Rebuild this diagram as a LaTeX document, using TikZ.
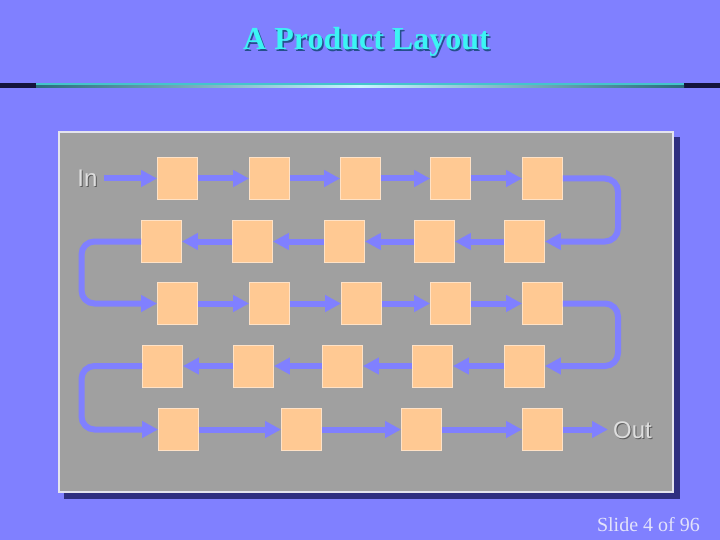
\documentclass[tikz,border=0pt]{standalone}
\usepackage{fontspec}
\setmainfont{Liberation Serif}
\newfontfamily\arialf{Liberation Sans}
\usetikzlibrary{arrows.meta,calc}
\definecolor{bgblue}{HTML}{8080FF}
\definecolor{panelgray}{HTML}{A0A0A0}
\definecolor{panelborder}{HTML}{E4E4EE}
\definecolor{shadownavy}{HTML}{2E2E80}
\definecolor{peach}{HTML}{FFC993}
\definecolor{peachedge}{HTML}{FFE2C6}
\definecolor{arrowblue}{HTML}{8080FF}
\definecolor{titlecyan}{HTML}{3CF4F4}
\definecolor{titleshadow}{HTML}{24508C}
\definecolor{lbltext}{HTML}{DEDEDE}
\definecolor{lblshadow}{HTML}{5A5A5A}
\definecolor{slidetext}{HTML}{E2E2FA}
\definecolor{rulenavy}{HTML}{14143C}
\definecolor{rulecyan}{HTML}{44C4CC}
\definecolor{ruleteal}{HTML}{2A6C7C}
\definecolor{rulelight}{HTML}{C8F4FF}
\tikzset{
  station/.style={draw=peachedge, fill=peach, line width=0.8pt, minimum width=40pt, minimum height=42pt, inner sep=0pt},
  flow/.style={line width=6pt, draw=arrowblue, rounded corners=13pt, -{Triangle[length=16pt,width=16pt]}},
  lbl/.style={font=\arialf\fontsize{24}{26}\selectfont, text=lbltext, inner sep=0pt},
  lblsh/.style={font=\arialf\fontsize{24}{26}\selectfont, text=lblshadow, inner sep=0pt},
}
\begin{document}
\begin{tikzpicture}[x=1pt,y=-1pt]
\useasboundingbox (0,0) rectangle (720,540);
\fill[bgblue] (0,0) rectangle (720,540);
% title
\node[font=\fontsize{32}{36}\bfseries\selectfont, text=titleshadow, anchor=base, inner sep=0pt] at (368,51.5) {A Product Layout};
\node[font=\fontsize{32}{36}\bfseries\selectfont, text=titlecyan, anchor=base, inner sep=0pt] (title) at (366.5,50) {A Product Layout};
% rule
\fill[rulenavy] (0,83) rectangle (720,88);
\fill[rulecyan] (36,83) rectangle (684,85.5);
\shade[left color=ruleteal, right color=ruleteal, middle color=rulelight] (36,85.5) rectangle (684,88);
% panel
\fill[shadownavy] (64,137) rectangle (680,499);
\draw[fill=panelgray, draw=panelborder, line width=2.2pt] (59,132) rectangle (673,492);
% stations
\node[station] (r1a) at (177.5,178.5) {};
\node[station] (r1b) at (269.5,178.5) {};
\node[station] (r1c) at (360.5,178.5) {};
\node[station] (r1d) at (450.5,178.5) {};
\node[station] (r1e) at (542.5,178.5) {};
\node[station] (r2a) at (161.5,241.5) {};
\node[station] (r2b) at (252.5,241.5) {};
\node[station] (r2c) at (344.5,241.5) {};
\node[station] (r2d) at (434.5,241.5) {};
\node[station] (r2e) at (524.5,241.5) {};
\node[station] (r3a) at (177.5,303.5) {};
\node[station] (r3b) at (269.5,303.5) {};
\node[station] (r3c) at (361.5,303.5) {};
\node[station] (r3d) at (450.5,303.5) {};
\node[station] (r3e) at (542.5,303.5) {};
\node[station] (r4a) at (162.5,366) {};
\node[station] (r4b) at (253.5,366) {};
\node[station] (r4c) at (342.5,366) {};
\node[station] (r4d) at (432.5,366) {};
\node[station] (r4e) at (524.5,366) {};
\node[station] (r5a) at (178.5,429.5) {};
\node[station] (r5b) at (301.5,429.5) {};
\node[station] (r5c) at (421.5,429.5) {};
\node[station] (r5d) at (542.5,429.5) {};
% labels
\node[lblsh, anchor=base] at (88.5,188) {In};
\node[lbl, anchor=base] (in) at (87.5,187) {In};
\node[lblsh, anchor=base west] at (614,439) {Out};
\node[lbl, anchor=base west] (out) at (613,438) {Out};
\coordinate (rt) at (618,0);
\coordinate (lf) at (81.5,0);
% flows
\draw[flow, shorten <=6pt] (in.east |- r1a.west) -- (r1a.west);
\draw[flow] (r1a) -- (r1b);
\draw[flow] (r1b) -- (r1c);
\draw[flow] (r1c) -- (r1d);
\draw[flow] (r1d) -- (r1e);
\draw[flow] (r1e.east) -- (r1e.east -| rt) -- (r2e.east -| rt) -- (r2e.east);
\draw[flow] (r2e) -- (r2d);
\draw[flow] (r2d) -- (r2c);
\draw[flow] (r2c) -- (r2b);
\draw[flow] (r2b) -- (r2a);
\draw[flow] (r2a.west) -- (r2a.west -| lf) -- (r3a.west -| lf) -- (r3a.west);
\draw[flow] (r3a) -- (r3b);
\draw[flow] (r3b) -- (r3c);
\draw[flow] (r3c) -- (r3d);
\draw[flow] (r3d) -- (r3e);
\draw[flow] (r3e.east) -- (r3e.east -| rt) -- (r4e.east -| rt) -- (r4e.east);
\draw[flow] (r4e) -- (r4d);
\draw[flow] (r4d) -- (r4c);
\draw[flow] (r4c) -- (r4b);
\draw[flow] (r4b) -- (r4a);
\draw[flow] (r4a.west) -- (r4a.west -| lf) -- (r5a.west -| lf) -- (r5a.west);
\draw[flow] (r5a) -- (r5b);
\draw[flow] (r5b) -- (r5c);
\draw[flow] (r5c) -- (r5d);
\draw[flow, shorten >=5pt] (r5d.east) -- (out.west |- r5d.east);
% slide number
\node[font=\fontsize{20}{22}\selectfont, text=slidetext, anchor=base east, inner sep=0pt] (slide) at (700,531) {Slide 4 of 96};
\end{tikzpicture}
\end{document}
